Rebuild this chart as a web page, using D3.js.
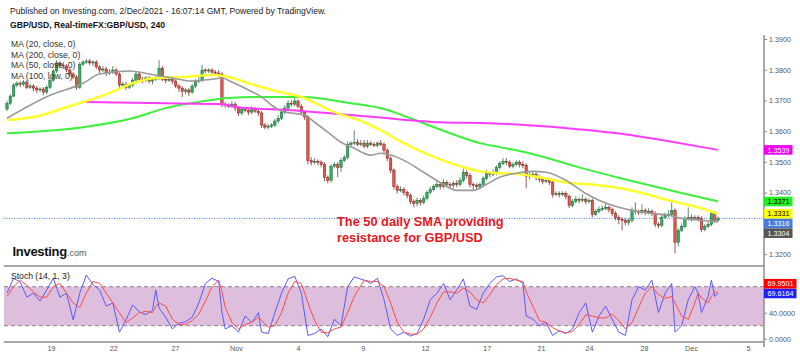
<!DOCTYPE html>
<html><head><meta charset="utf-8">
<script src="https://cdn.jsdelivr.net/npm/d3@7"></script>
<style>body{margin:0;background:#fff;}svg{display:block;font-family:"Liberation Sans",Arial,sans-serif;}</style>
</head><body><svg id="c" width="800" height="357"></svg>
<script>
// ---------- DATA ----------
const headerText = "Published on Investing.com, 2/Dec/2021 - 16:07:14 GMT, Powered by TradingView.";
const symbolText = "GBP/USD, Real-timeFX:GBP/USD, 240";
const legendLabels = ["MA (20, close, 0)", "MA (200, close, 0)", "MA (50, close, 0)", "MA (100, low, 0)"];
const noteLines = ["The 50 daily SMA providing", "resistance for GBP/USD"];

const firstOpen = 1.3672;
const closes = [
1.3691,1.3714,1.3750,1.3756,1.3753,1.3760,1.3743,1.3747,1.3740,1.3734,
1.3737,1.3727,1.3743,1.3766,1.3796,1.3822,1.3815,1.3812,1.3799,1.3786,
1.3776,1.3743,1.3818,1.3825,1.3828,1.3822,1.3825,1.3809,1.3799,1.3802,
1.3789,1.3792,1.3799,1.3786,1.3750,1.3753,1.3743,1.3750,1.3766,1.3786,
1.3769,1.3766,1.3773,1.3763,1.3769,1.3773,1.3805,1.3769,1.3766,1.3769,
1.3763,1.3747,1.3740,1.3730,1.3734,1.3727,1.3747,1.3763,1.3766,1.3799,
1.3796,1.3799,1.3792,1.3789,1.3786,1.3688,1.3685,1.3681,1.3688,1.3675,
1.3659,1.3672,1.3668,1.3662,1.3672,1.3665,1.3659,1.3620,1.3613,1.3616,
1.3620,1.3633,1.3642,1.3662,1.3675,1.3691,1.3688,1.3698,1.3681,1.3662,
1.3646,1.3505,1.3499,1.3502,1.3499,1.3492,1.3450,1.3440,1.3486,1.3492,
1.3482,1.3505,1.3515,1.3557,1.3561,1.3564,1.3557,1.3561,1.3551,1.3561,
1.3557,1.3554,1.3561,1.3557,1.3538,1.3512,1.3473,1.3420,1.3407,1.3410,
1.3401,1.3391,1.3371,1.3365,1.3375,1.3368,1.3381,1.3401,1.3410,1.3420,
1.3427,1.3420,1.3433,1.3427,1.3424,1.3430,1.3427,1.3440,1.3466,1.3456,
1.3427,1.3424,1.3420,1.3427,1.3446,1.3463,1.3460,1.3466,1.3482,1.3495,
1.3502,1.3499,1.3486,1.3492,1.3499,1.3492,1.3489,1.3453,1.3456,1.3460,
1.3450,1.3443,1.3437,1.3440,1.3433,1.3394,1.3397,1.3394,1.3397,1.3388,
1.3358,1.3371,1.3378,1.3375,1.3378,1.3371,1.3375,1.3329,1.3339,1.3345,
1.3349,1.3352,1.3345,1.3332,1.3319,1.3313,1.3310,1.3303,1.3310,1.3342,
1.3339,1.3335,1.3342,1.3335,1.3339,1.3332,1.3297,1.3293,1.3319,1.3326,
1.3329,1.3342,1.3238,1.3277,1.3290,1.3316,1.3319,1.3316,1.3319,1.3316,
1.3280,1.3290,1.3297,1.3332,1.3310,1.3316];
const highs = [
1.3698,1.3721,1.3756,1.3763,1.3763,1.3766,1.3766,1.3753,1.3753,1.3747,
1.3743,1.3743,1.3750,1.3773,1.3802,1.3831,1.3828,1.3825,1.3818,1.3805,
1.3792,1.3783,1.3825,1.3831,1.3835,1.3835,1.3831,1.3831,1.3815,1.3812,
1.3809,1.3802,1.3812,1.3805,1.3792,1.3760,1.3760,1.3756,1.3773,1.3792,
1.3792,1.3776,1.3779,1.3779,1.3776,1.3783,1.3831,1.3812,1.3776,1.3776,
1.3776,1.3769,1.3753,1.3747,1.3740,1.3740,1.3753,1.3769,1.3776,1.3815,
1.3805,1.3805,1.3805,1.3799,1.3799,1.3792,1.3695,1.3691,1.3698,1.3695,
1.3681,1.3678,1.3678,1.3675,1.3681,1.3678,1.3672,1.3665,1.3626,1.3623,
1.3626,1.3639,1.3652,1.3668,1.3685,1.3701,1.3701,1.3708,1.3704,1.3688,
1.3668,1.3652,1.3515,1.3512,1.3508,1.3505,1.3499,1.3456,1.3492,1.3499,
1.3499,1.3512,1.3522,1.3567,1.3567,1.3603,1.3574,1.3571,1.3571,1.3571,
1.3567,1.3564,1.3567,1.3571,1.3564,1.3544,1.3518,1.3479,1.3427,1.3420,
1.3417,1.3407,1.3397,1.3378,1.3384,1.3381,1.3391,1.3407,1.3420,1.3427,
1.3437,1.3433,1.3443,1.3440,1.3433,1.3437,1.3440,1.3450,1.3479,1.3473,
1.3463,1.3433,1.3430,1.3433,1.3453,1.3473,1.3469,1.3476,1.3489,1.3502,
1.3512,1.3512,1.3505,1.3499,1.3505,1.3505,1.3502,1.3495,1.3466,1.3466,
1.3466,1.3456,1.3450,1.3446,1.3446,1.3440,1.3404,1.3404,1.3404,1.3404,
1.3394,1.3378,1.3388,1.3384,1.3394,1.3384,1.3381,1.3381,1.3345,1.3355,
1.3358,1.3365,1.3358,1.3352,1.3339,1.3326,1.3319,1.3316,1.3316,1.3352,
1.3368,1.3345,1.3362,1.3349,1.3349,1.3345,1.3339,1.3303,1.3329,1.3335,
1.3342,1.3368,1.3349,1.3284,1.3300,1.3323,1.3352,1.3329,1.3326,1.3326,
1.3323,1.3297,1.3306,1.3339,1.3339,1.3323];
const lows = [
1.3665,1.3685,1.3711,1.3743,1.3743,1.3747,1.3737,1.3737,1.3730,1.3724,
1.3727,1.3717,1.3721,1.3737,1.3760,1.3789,1.3809,1.3802,1.3792,1.3776,
1.3769,1.3734,1.3737,1.3812,1.3818,1.3815,1.3812,1.3802,1.3789,1.3792,
1.3779,1.3783,1.3786,1.3779,1.3740,1.3743,1.3734,1.3737,1.3743,1.3760,
1.3763,1.3756,1.3760,1.3756,1.3753,1.3763,1.3766,1.3763,1.3756,1.3760,
1.3753,1.3740,1.3727,1.3711,1.3721,1.3714,1.3721,1.3740,1.3756,1.3760,
1.3789,1.3789,1.3786,1.3783,1.3776,1.3678,1.3675,1.3675,1.3675,1.3665,
1.3649,1.3652,1.3662,1.3652,1.3655,1.3659,1.3649,1.3610,1.3606,1.3606,
1.3610,1.3613,1.3626,1.3636,1.3655,1.3668,1.3681,1.3681,1.3675,1.3655,
1.3636,1.3492,1.3489,1.3492,1.3489,1.3482,1.3437,1.3430,1.3433,1.3479,
1.3450,1.3466,1.3499,1.3508,1.3551,1.3554,1.3551,1.3551,1.3544,1.3544,
1.3551,1.3548,1.3548,1.3551,1.3528,1.3502,1.3463,1.3410,1.3397,1.3401,
1.3391,1.3381,1.3362,1.3352,1.3355,1.3358,1.3362,1.3375,1.3394,1.3404,
1.3414,1.3410,1.3414,1.3417,1.3414,1.3414,1.3417,1.3420,1.3433,1.3446,
1.3417,1.3407,1.3410,1.3410,1.3417,1.3440,1.3450,1.3453,1.3456,1.3476,
1.3489,1.3489,1.3479,1.3479,1.3486,1.3482,1.3479,1.3414,1.3443,1.3450,
1.3440,1.3433,1.3427,1.3430,1.3424,1.3384,1.3388,1.3384,1.3388,1.3378,
1.3349,1.3352,1.3365,1.3365,1.3368,1.3362,1.3365,1.3319,1.3323,1.3332,
1.3339,1.3342,1.3335,1.3323,1.3310,1.3297,1.3277,1.3293,1.3293,1.3303,
1.3329,1.3326,1.3329,1.3326,1.3329,1.3323,1.3287,1.3284,1.3287,1.3316,
1.3319,1.3323,1.3202,1.3225,1.3271,1.3284,1.3310,1.3306,1.3310,1.3306,
1.3271,1.3274,1.3284,1.3290,1.3303,1.3306];

const ma20Idx = [0,13,23,28,37,43,50,56,62,65,68,73,77,80,83,86,90,93,97,101,105,110,113,116,121,126,131,136,141,145,149,154,159,163,169,175,179,185,189,195,200,204,210,215];
const ma20Val = [1.3642,1.3717,1.3756,1.3786,1.3796,1.3786,1.3773,1.3763,1.3769,1.3773,1.3760,1.3734,1.3711,1.3685,1.3665,1.3659,1.3652,1.3629,1.3597,1.3564,1.3544,1.3522,1.3528,1.3522,1.3499,1.3466,1.3433,1.3407,1.3407,1.3427,1.3450,1.3463,1.3469,1.3466,1.3440,1.3397,1.3375,1.3352,1.3342,1.3332,1.3326,1.3316,1.3310,1.3304];
const ma50Idx = [0,8,18,24,31,38,45,53,62,66,73,80,89,99,108,113,119,125,131,137,143,149,155,161,169,179,189,200,210,215];
const ma50Val = [1.3636,1.3646,1.3678,1.3698,1.3724,1.3756,1.3773,1.3776,1.3783,1.3779,1.3756,1.3734,1.3711,1.3662,1.3629,1.3603,1.3567,1.3535,1.3508,1.3486,1.3469,1.3463,1.3460,1.3450,1.3433,1.3424,1.3407,1.3375,1.3349,1.3331];
const ma100Idx = [0,23,38,48,58,67,77,89,104,114,122,134,143,149,158,173,188,203,215];
const ma100Val = [1.3593,1.3613,1.3642,1.3675,1.3695,1.3708,1.3711,1.3711,1.3691,1.3672,1.3642,1.3593,1.3561,1.3548,1.3528,1.3482,1.3440,1.3401,1.3371];
const ma200Idx = [24,48,64,70,86,111,131,146,169,189,198,215];
const ma200Val = [1.3695,1.3691,1.3688,1.3678,1.3668,1.3646,1.3629,1.3626,1.3610,1.3587,1.3571,1.3539];

const stochIdx = [0,2,4,6,8,10,12,14,16,18,20,22,24,26,28,30,32,34,36,38,40,42,44,45,46,48,50,52,54,56,58,60,62,64,65,66,68,70,72,74,76,77,79,81,83,85,87,89,91,93,95,97,99,101,103,105,108,110,112,114,116,118,120,122,124,126,128,130,132,134,136,138,140,142,144,146,148,150,152,154,156,157,159,161,163,165,167,169,171,173,175,177,179,181,183,185,187,189,191,193,195,197,199,201,202,204,206,208,209,210,212,213,214,215];
const stochK = [70,93,87,64,70,58,75,93,64,70,29,70,98,83,75,50,55,10,29,52,41,37,44,75,47,33,15,24,26,33,55,85,93,88,40,15,20,10,35,25,40,10,8,40,70,92,96,70,5,8,15,3,30,20,80,95,90,85,93,60,15,5,10,4,8,30,60,70,85,60,75,92,50,45,70,85,95,97,88,92,85,35,30,20,25,5,12,8,15,40,55,10,35,50,30,10,5,60,80,75,90,40,70,85,10,20,60,80,70,40,65,90,65,69.6164];
const stochD = [65,80,90,82,72,64,64,80,85,70,55,48,70,88,85,70,55,40,25,32,40,42,40,50,55,50,30,22,22,28,38,58,80,90,72,48,25,15,22,25,33,28,18,20,40,70,88,85,55,28,10,9,15,18,40,65,90,88,88,80,55,25,10,7,7,15,33,55,72,72,70,78,72,60,55,68,83,92,93,90,88,72,50,28,25,17,12,9,11,22,37,35,32,32,38,28,15,25,48,70,80,68,62,65,55,35,30,55,70,63,55,65,72,69.9501];

const priceTicks = [1.39, 1.38, 1.37, 1.36, 1.35, 1.34, 1.32];
const stochTicks = [0, 40];
const dateTickIdx = [13.3, 32.1, 50.8, 69.2, 88.0, 107.6, 126.4, 145.1, 161.5, 176.0, 192.6, 206.8, 224.1];
const dateTickLabels = ["19","22","27","Nov","4","9","12","17","21","24","28","Dec","5"];
const lastPrice = 1.3316;
const priceBadgeValues = [1.3539, 1.3371, 1.3331, 1.3316, 1.3304];
const stochBadgeValues = [69.9501, 69.6164];

// ---------- STYLE ----------
const C = {
  up: "#2db45e", upLine: "#1b5e34", down: "#e8564b", downLine: "#7a231c",
  ma20: "#9a9a9a", ma200: "#ff3cff", ma50: "#ffff30", ma100: "#3cf03c",
  k: "#5a5aff", d: "#ff4c4c", axis: "#8c8c8c", text: "#555"
};
const priceBadgeFill = ["#ee00ee", "#22ee22", "#ffff00", "#4a7bd9", "#555555"];
const priceBadgeText = ["#fff", "#000", "#000", "#fff", "#fff"];
const stochBadgeFill = ["#ff0000", "#1f1fff"];

const svg = d3.select("#c");
const AX = 764;
const x = d3.scaleLinear().domain([0, 215]).range([7, 718]);
const y = d3.scaleLinear().domain([1.32, 1.39]).range([254, 39]);
const ys = d3.scaleLinear().domain([0, 100]).range([338.7, 273.7]);

// header
svg.append("text").attr("x", 10).attr("y", 14).attr("font-size", 8.6).attr("fill", "#222")
  .attr("textLength", 316).attr("lengthAdjust", "spacingAndGlyphs").text(headerText);
svg.append("text").attr("x", 10).attr("y", 27.5).attr("font-size", 8.6).attr("font-weight", "bold").attr("fill", "#111")
  .attr("textLength", 155).attr("lengthAdjust", "spacingAndGlyphs").text(symbolText);

// stoch band
svg.append("rect").attr("x", 4).attr("y", ys(80)).attr("width", AX - 4).attr("height", ys(20) - ys(80)).attr("fill", "#ddbfdd");
[80, 20].forEach(v => svg.append("line").attr("x1", 4).attr("x2", AX).attr("y1", ys(v)).attr("y2", ys(v))
  .attr("stroke", "#8d7f8d").attr("stroke-dasharray", "4,3"));

// last price dotted line
svg.append("line").attr("x1", 4).attr("x2", AX).attr("y1", y(lastPrice)).attr("y2", y(lastPrice))
  .attr("stroke", "#4a7bd9").attr("stroke-dasharray", "1,1.5").attr("stroke-width", 1);

// candles
const candles = closes.map((c, i) => ({ i, o: i === 0 ? firstOpen : closes[i - 1], h: highs[i], l: lows[i], c }));
const cg = svg.append("g");
cg.selectAll("line.w").data(candles).join("line")
  .attr("x1", d => x(d.i)).attr("x2", d => x(d.i)).attr("y1", d => y(d.h)).attr("y2", d => y(d.l))
  .attr("stroke", d => d.c >= d.o ? "#4f7f5f" : "#8a4a44").attr("stroke-width", 0.9);
cg.selectAll("rect").data(candles).join("rect")
  .attr("x", d => x(d.i) - 1.2).attr("width", 2.4)
  .attr("y", d => y(Math.max(d.o, d.c)))
  .attr("height", d => Math.max(0.8, Math.abs(y(d.o) - y(d.c))))
  .attr("fill", d => d.c >= d.o ? C.up : C.down)
  .attr("stroke", d => d.c >= d.o ? C.upLine : C.downLine).attr("stroke-width", 0.5);

// MAs
function maLine(idx, vals, color, w) {
  const line = d3.line().x(d => x(d[0])).y(d => y(d[1])).curve(d3.curveMonotoneX);
  svg.append("path").datum(idx.map((v, k) => [v, vals[k]])).attr("d", line)
    .attr("fill", "none").attr("stroke", color).attr("stroke-width", w).attr("stroke-linejoin", "round");
}
maLine(ma100Idx, ma100Val, C.ma100, 2);
maLine(ma200Idx, ma200Val, C.ma200, 2);
maLine(ma50Idx, ma50Val, C.ma50, 2.5);
maLine(ma20Idx, ma20Val, C.ma20, 1.6);

// legend
legendLabels.forEach((t, k) => svg.append("text").attr("x", 11).attr("y", 47.3 + k * 10.5)
  .attr("font-size", 8.6).attr("fill", "#333").text(t));

// stoch lines
const sl = (arr) => d3.line().x((d, k) => x(stochIdx[k])).y(d => ys(d))(arr);
svg.append("path").attr("d", sl(stochK)).attr("fill", "none").attr("stroke", C.k).attr("stroke-width", 1);
svg.append("path").attr("d", sl(stochD)).attr("fill", "none").attr("stroke", C.d).attr("stroke-width", 1);
svg.append("text").attr("x", 11).attr("y", 279).attr("font-size", 8.6).attr("fill", "#222").text("Stoch (14, 1, 3)");

// separators / frame
svg.append("line").attr("x1", 4).attr("x2", AX).attr("y1", 266).attr("y2", 266).attr("stroke", C.axis).attr("stroke-width", 1.5);
svg.append("line").attr("x1", 4).attr("x2", AX).attr("y1", 342).attr("y2", 342).attr("stroke", C.axis).attr("stroke-width", 1.5);
svg.append("line").attr("x1", AX).attr("x2", AX).attr("y1", 35).attr("y2", 347).attr("stroke", C.axis).attr("stroke-width", 1.5);

// axes
const ra = svg.append("g").attr("transform", `translate(${AX},0)`)
  .call(d3.axisRight(y).tickValues(priceTicks).tickFormat(d3.format(".4f")).tickSize(3).tickPadding(2));
const sa = svg.append("g").attr("transform", `translate(${AX},0)`)
  .call(d3.axisRight(ys).tickValues(stochTicks).tickFormat(d => d.toFixed(4)).tickSize(3).tickPadding(2));
const ba = svg.append("g").attr("transform", "translate(0,342)")
  .call(d3.axisBottom(x).tickValues(dateTickIdx).tickFormat((d, k) => dateTickLabels[k]).tickSize(0).tickPadding(4));
[ra, sa, ba].forEach(g => {
  g.select(".domain").remove();
  g.selectAll("text").attr("font-size", 7.2).attr("fill", C.text).attr("font-family", "Liberation Sans, Arial, sans-serif");
  g.selectAll("line").attr("stroke", C.axis);
});

// price badges (pushed downward to avoid overlap)
const pb = priceBadgeValues.map((v, k) => ({ v, k, cy: y(v) })).sort((a, b) => a.cy - b.cy);
for (let k = 1; k < pb.length; k++) pb[k].cy = Math.max(pb[k].cy, pb[k - 1].cy + 9.7);
pb.forEach(b => {
  svg.append("rect").attr("x", AX).attr("y", b.cy - 4.8).attr("width", 28.5).attr("height", 9.6).attr("fill", priceBadgeFill[b.k]);
  svg.append("text").attr("x", AX + 3.5).attr("y", b.cy + 2.7).attr("font-size", 7.2).attr("fill", priceBadgeText[b.k])
    .text(d3.format(".4f")(b.v));
});
// stoch badges (pushed upward)
const sb = stochBadgeValues.map((v, k) => ({ v, k, cy: ys(v) })).sort((a, b) => b.cy - a.cy);
for (let k = 1; k < sb.length; k++) sb[k].cy = Math.min(sb[k].cy, sb[k - 1].cy - 9.7);
sb.forEach(b => {
  svg.append("rect").attr("x", AX).attr("y", b.cy - 4.8).attr("width", 32.5).attr("height", 9.6).attr("fill", stochBadgeFill[b.k]);
  svg.append("text").attr("x", AX + 3.5).attr("y", b.cy + 2.7).attr("font-size", 7.2).attr("fill", "#fff")
    .text(b.v.toFixed(4));
});

// annotation
noteLines.forEach((t, k) => svg.append("text").attr("x", 337).attr("y", 226 + k * 15.7)
  .attr("font-size", 12.8).attr("font-weight", "bold").attr("fill", "#e8161c").text(t));

// logo
const logo = svg.append("text").attr("x", 12.5).attr("y", 256);
logo.append("tspan").attr("font-size", 13).attr("font-weight", "bold").attr("letter-spacing", -0.3).attr("fill", "#111").text("Investing");
logo.append("tspan").attr("font-size", 9).attr("fill", "#555").text(".com");
</script></body></html>
